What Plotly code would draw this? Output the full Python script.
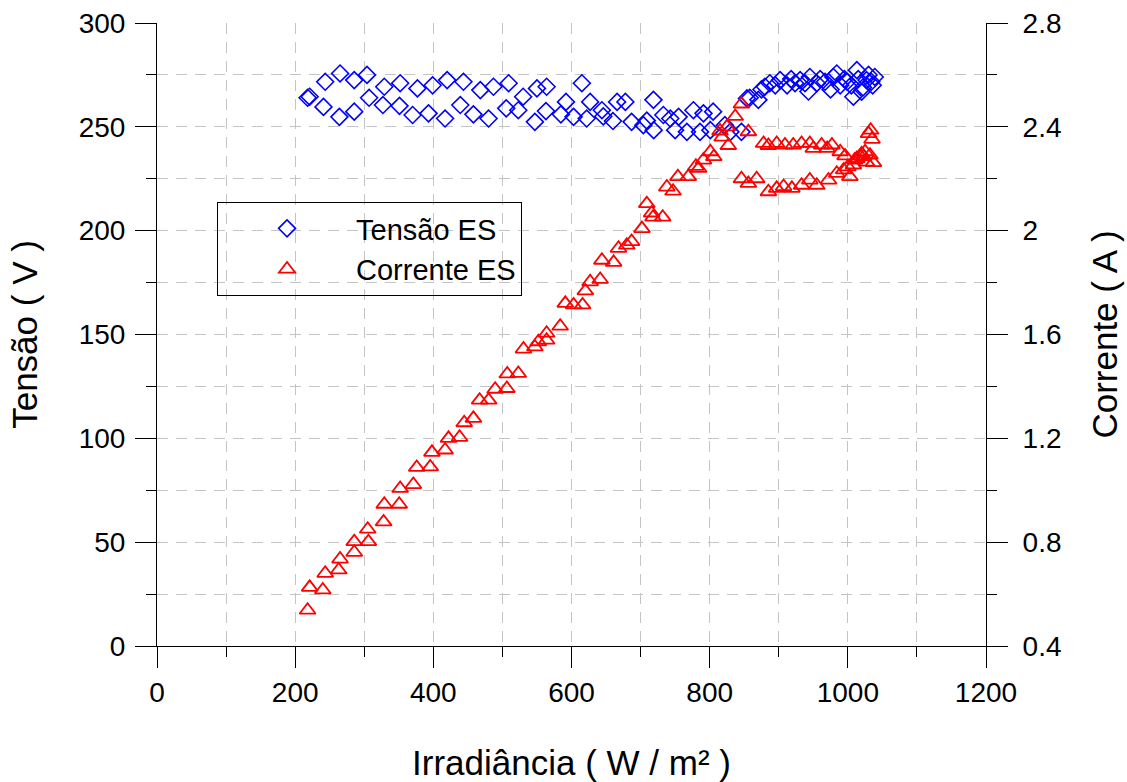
import plotly.graph_objects as go

# Tensão ES (left axis, V)
tensao_x = [218, 221, 241, 243.5, 265, 264, 285.5, 285.5, 304, 307, 329, 327, 352, 351, 377, 370,
            399, 393, 420, 417, 443.6, 439, 458, 468, 487, 480, 509, 505.5, 523, 530, 547, 550,
            564, 563, 592, 584.6, 603, 615, 627, 622, 644, 646, 660, 666, 678, 687, 704, 709,
            718.6, 719, 733, 743, 755, 750, 767, 776.5, 791, 805, 786, 801, 822, 830, 846, 854,
            858, 870.5, 875, 880, 887, 895, 902, 912, 918, 923.6, 931, 938, 945, 943, 955, 960,
            967, 975, 979, 984, 989, 995, 999, 1005, 1008, 1013, 1015, 1020, 1022, 1027, 1030,
            1034, 1036, 1039]
tensao_v = [264, 264.5, 259.6, 271.7, 275.7, 254.8, 272.5, 257.3, 275, 264, 269.3, 260.5, 271, 260.1,
            268.5, 255.7, 270, 256.5, 272.5, 254, 271.7, 260.5, 256, 267.7, 269.3, 254, 271, 258.9,
            258, 264.5, 252.4, 268.5, 269.3, 257.6, 262, 256, 254.8, 271, 262, 254, 258, 255,
            252.8, 262, 262, 252.4, 250.8, 253, 263, 248.4, 255.7, 254, 254.8, 248.4, 247.6, 258,
            256.5, 257.3, 247.6, 248.4, 250.8, 247.6, 247.6, 263.7, 264, 263, 268, 269.3, 271, 270,
            272.5, 270, 273, 271, 272.5, 271, 274, 267, 271, 273, 271.7, 268, 274, 275.7, 270, 273,
            271.7, 270, 264.5, 277.3, 273, 266.9, 269, 272.5, 275, 271.7, 270, 274]

# Corrente ES (right axis, A)
corrente_x = [218, 221, 240, 243.5, 263, 265, 285.5, 285.5, 306, 305, 328, 329, 350.6, 352, 371, 376,
              395.5, 398, 417, 422, 438, 444.7, 458, 467, 480, 489.5, 506.4, 507, 523, 530.5, 547,
              552, 564, 564, 583.6, 591, 603, 616, 620, 627, 641.5, 644, 661, 668, 680, 687, 702,
              709, 716, 718, 732, 738, 747, 754, 769, 780, 784, 791, 801, 806, 815, 818, 825, 827,
              837, 846, 856,
              846, 856, 868, 885, 897, 907, 919, 933, 945, 955, 972, 984, 994, 1003,
              878, 885, 897, 909, 921, 933, 945, 950, 962, 970, 977, 989, 996,
              1000, 1008, 1010, 1013, 1018, 1020, 1023, 1025, 1027, 1030, 1032, 1033, 1035, 1037]
corrente_a = [0.538, 0.626, 0.616, 0.680, 0.693, 0.735, 0.761, 0.802, 0.802, 0.850, 0.878, 0.946,
              0.946, 1.007, 1.022, 1.088, 1.090, 1.146, 1.155, 1.200, 1.204, 1.260, 1.277, 1.347,
              1.347, 1.389, 1.392, 1.448, 1.450, 1.544, 1.552, 1.572, 1.578, 1.605, 1.632, 1.720,
              1.714, 1.714, 1.768, 1.803, 1.812, 1.886, 1.878, 1.932, 1.944, 1.958, 2.008, 2.104,
              2.068, 2.052, 2.052, 2.168, 2.152, 2.208, 2.208, 2.248, 2.240, 2.272, 2.304, 2.285,
              2.384, 2.360, 2.400, 2.328, 2.440, 2.488, 2.381,
              2.200, 2.182, 2.200, 2.150, 2.163, 2.170, 2.163, 2.175, 2.195, 2.175, 2.195, 2.221,
              2.234, 2.208,
              2.336, 2.328, 2.336, 2.330, 2.330, 2.336, 2.336, 2.317, 2.330, 2.317, 2.330, 2.304,
              2.288,
              2.246, 2.253, 2.272, 2.278, 2.288, 2.296, 2.285, 2.304, 2.264, 2.374, 2.291, 2.387,
              2.352, 2.262]

x_ticks = [0, 200, 400, 600, 800, 1000, 1200]
y_left_ticks = [0, 50, 100, 150, 200, 250, 300]
y_right_ticks = [0.4, 0.8, 1.2, 1.6, 2.0, 2.4, 2.8]
y_right_labels = ["0.4", "0.8", "1.2", "1.6", "2", "2.4", "2.8"]

FONT = "Liberation Sans, Arial, sans-serif"
GRID = "#c4c4c4"
DASH = "11px,8px"

fig = go.Figure()
fig.add_trace(go.Scatter(
    x=tensao_x, y=tensao_v, mode="markers", name="Tensão ES",
    marker=dict(symbol="diamond-open", size=13, color="#0000ff", line=dict(width=1.6, color="#0000ff")),
    yaxis="y"))
fig.add_trace(go.Scatter(
    x=corrente_x, y=corrente_a, mode="markers", name="Corrente ES",
    marker=dict(symbol="triangle-up-open", size=14, color="#ff0000", line=dict(width=1.8, color="#ff0000")),
    yaxis="y2"))

fig.update_layout(
    width=1127, height=782,
    margin=dict(l=157, r=141, t=23, b=136, autoexpand=False),
    paper_bgcolor="white", plot_bgcolor="white",
    font=dict(family=FONT, size=28, color="black"),
    showlegend=True,
    legend=dict(x=0.0724, y=0.7127, xanchor="left", yanchor="top",
                bgcolor="rgba(0,0,0,0)", bordercolor="black", borderwidth=1,
                font=dict(size=29), itemwidth=128, tracegroupgap=0),
    xaxis=dict(range=[0, 1200], tickvals=x_ticks, ticks="outside", ticklen=21, tickcolor="black",
               showline=True, linecolor="black", linewidth=1, zeroline=False, automargin=False,
               showgrid=True, gridcolor=GRID, griddash=DASH, gridwidth=1,
               minor=dict(dtick=100, ticks="outside", ticklen=10, tickcolor="black",
                          showgrid=True, gridcolor=GRID, griddash=DASH),
               title=dict(text="Irradiância ( W / m² )", font=dict(size=35), standoff=48)),
    yaxis=dict(range=[0, 300], tickvals=y_left_ticks, ticks="outside", ticklen=21, tickcolor="black",
               showline=True, linecolor="black", linewidth=1, zeroline=False, automargin=False,
               ticklabelstandoff=4,
               showgrid=True, gridcolor=GRID, griddash=DASH, gridwidth=1,
               minor=dict(dtick=25, ticks="outside", ticklen=10, tickcolor="black",
                          showgrid=True, gridcolor=GRID, griddash=DASH),
               title=dict(text="Tensão ( V )", font=dict(size=35), standoff=30)),
    yaxis2=dict(range=[0.4, 2.8], tickvals=y_right_ticks, ticktext=y_right_labels,
                overlaying="y", side="right", ticks="outside", ticklen=21, tickcolor="black",
                showline=True, linecolor="black", linewidth=1, zeroline=False, showgrid=False,
                automargin=False, ticklabelstandoff=9,
                minor=dict(dtick=0.2, ticks="outside", ticklen=10, tickcolor="black", showgrid=False),
                title=dict(text="Corrente ( A )", font=dict(size=35), standoff=31)),
)

fig.write_html("out.html")
